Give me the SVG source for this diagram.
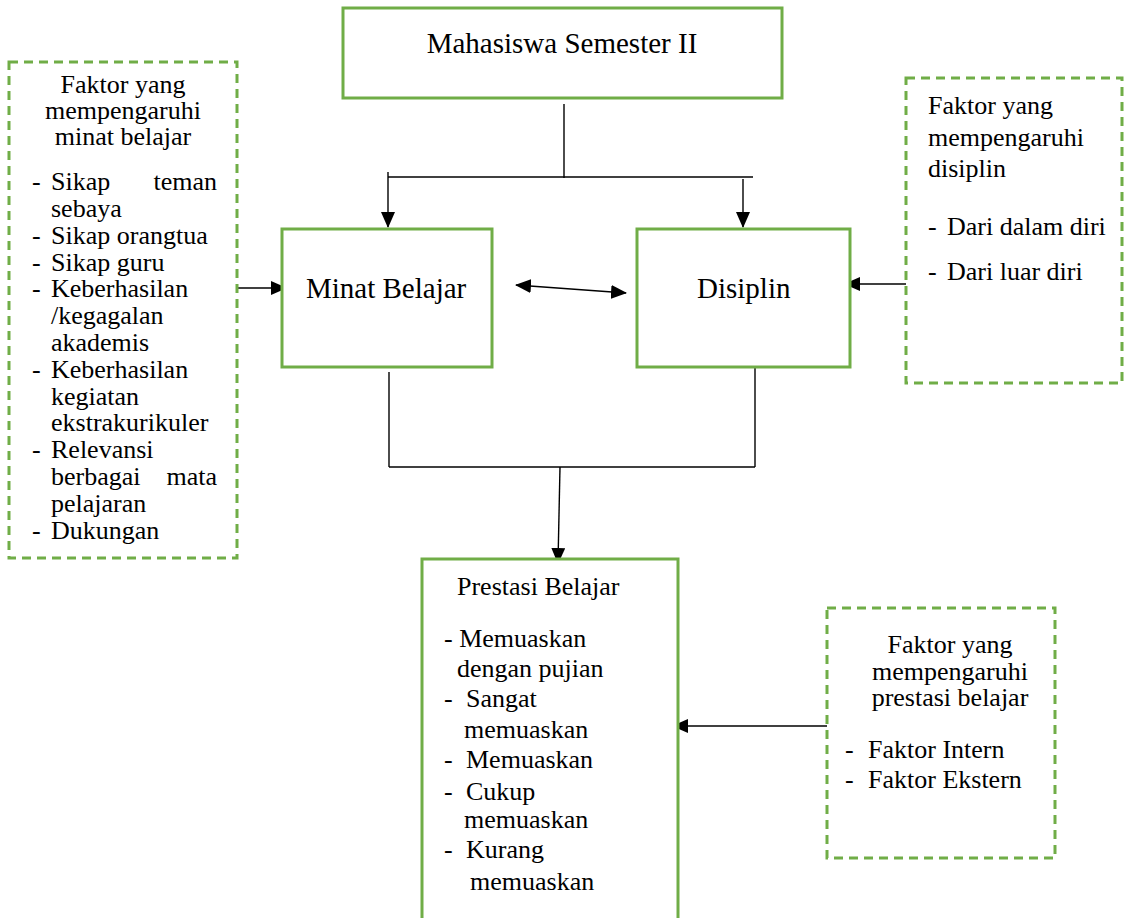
<svg xmlns="http://www.w3.org/2000/svg" width="1125" height="918" viewBox="0 0 1125 918">
<style>
text{fill:#000}
.t{font-size:29px}
.s{font-size:26px}
.box{fill:#fff;stroke:#70ad47;stroke-width:3}
.dbox{fill:none;stroke:#70ad47;stroke-width:3;stroke-dasharray:9 6}
.ln{fill:none;stroke:#000;stroke-width:1.4}
.m{text-anchor:middle}
.e{text-anchor:end}
</style>
<defs>
<marker id="ah" viewBox="0 0 16 14" refX="15" refY="7" markerWidth="16" markerHeight="14" markerUnits="userSpaceOnUse" orient="auto-start-reverse">
<path d="M0 0L16 7L0 14z" fill="#000"/>
</marker>
</defs>
<g id="connectors">
<line class="ln" x1="564" y1="104" x2="564" y2="178"/>
<line class="ln" x1="388" y1="177" x2="753" y2="177"/>
<line class="ln" x1="388" y1="172" x2="388" y2="227" marker-end="url(#ah)"/>
<line class="ln" x1="743" y1="179" x2="743" y2="227" marker-end="url(#ah)"/>
<line class="ln" x1="238" y1="288" x2="286" y2="288" marker-end="url(#ah)"/>
<line class="ln" x1="906" y1="284" x2="845" y2="284" marker-end="url(#ah)"/>
<line class="ln" x1="516" y1="285" x2="626" y2="293" marker-start="url(#ah)" marker-end="url(#ah)"/>
<line class="ln" x1="389" y1="372" x2="389" y2="467"/>
<line class="ln" x1="755" y1="367" x2="755" y2="467"/>
<line class="ln" x1="389" y1="467" x2="755" y2="467"/>
<line class="ln" x1="560" y1="467" x2="558" y2="563" marker-end="url(#ah)"/>
<line class="ln" x1="827" y1="726" x2="673" y2="726" marker-end="url(#ah)"/>
</g>
<g font-family="'Liberation Serif', 'DejaVu Serif', serif">
<g id="node-mahasiswa">
<rect class="box" x="343" y="8" width="439" height="90"/>
<text class="t m" x="562" y="53">Mahasiswa Semester II</text>
</g>
<g id="node-minat">
<rect class="box" x="282" y="229" width="210" height="138"/>
<text class="t" x="306" y="298">Minat Belajar</text>
</g>
<g id="node-disiplin">
<rect class="box" x="637" y="229" width="213" height="138"/>
<text class="t" x="697" y="298">Disiplin</text>
</g>
<g id="node-prestasi">
<rect class="box" x="422" y="559" width="256" height="380"/>
<text class="s" x="457" y="595">Prestasi Belajar</text>
<text class="s" x="444" y="647">- Memuaskan</text>
<text class="s" x="457" y="677">dengan pujian</text>
<text class="s" x="444" y="707">-</text><text class="s" x="466" y="707">Sangat</text>
<text class="s" x="464" y="738">memuaskan</text>
<text class="s" x="444" y="768">-</text><text class="s" x="466" y="768">Memuaskan</text>
<text class="s" x="444" y="800">-</text><text class="s" x="466" y="800">Cukup</text>
<text class="s" x="464" y="828">memuaskan</text>
<text class="s" x="444" y="858">-</text><text class="s" x="466" y="858">Kurang</text>
<text class="s" x="470" y="890">memuaskan</text>
</g>
<g id="node-faktor-minat">
<rect class="dbox" x="9" y="62" width="228" height="496"/>
<text class="s m" x="123" y="93">Faktor yang</text>
<text class="s m" x="123" y="119">mempengaruhi</text>
<text class="s m" x="123" y="145">minat belajar</text>
<text class="s" x="32" y="190">-</text><text class="s" x="51" y="190">Sikap</text><text class="s e" x="217" y="190">teman</text>
<text class="s" x="51" y="217">sebaya</text>
<text class="s" x="32" y="244">-</text><text class="s" x="51" y="244">Sikap orangtua</text>
<text class="s" x="32" y="271">-</text><text class="s" x="51" y="271">Sikap guru</text>
<text class="s" x="32" y="297">-</text><text class="s" x="51" y="297">Keberhasilan</text>
<text class="s" x="51" y="324">/kegagalan</text>
<text class="s" x="51" y="351">akademis</text>
<text class="s" x="32" y="378">-</text><text class="s" x="51" y="378">Keberhasilan</text>
<text class="s" x="51" y="405">kegiatan</text>
<text class="s" x="51" y="431">ekstrakurikuler</text>
<text class="s" x="32" y="458">-</text><text class="s" x="51" y="458">Relevansi</text>
<text class="s" x="51" y="485">berbagai</text><text class="s e" x="217" y="485">mata</text>
<text class="s" x="51" y="512">pelajaran</text>
<text class="s" x="32" y="539">-</text><text class="s" x="51" y="539">Dukungan</text>
</g>
<g id="node-faktor-disiplin">
<rect class="dbox" x="906" y="78" width="216" height="305"/>
<text class="s" x="928" y="114">Faktor yang</text>
<text class="s" x="928" y="146">mempengaruhi</text>
<text class="s" x="928" y="177">disiplin</text>
<text class="s" x="928" y="235">-</text><text class="s" x="947" y="235">Dari dalam diri</text>
<text class="s" x="928" y="280">-</text><text class="s" x="947" y="280">Dari luar diri</text>
</g>
<g id="node-faktor-prestasi">
<rect class="dbox" x="827" y="608" width="228" height="250"/>
<text class="s m" x="950" y="653">Faktor yang</text>
<text class="s m" x="950" y="680">mempengaruhi</text>
<text class="s m" x="950" y="706">prestasi belajar</text>
<text class="s" x="845" y="758">-</text><text class="s" x="868" y="758">Faktor Intern</text>
<text class="s" x="845" y="788">-</text><text class="s" x="868" y="788">Faktor Ekstern</text>
</g>
</g>
</svg>
